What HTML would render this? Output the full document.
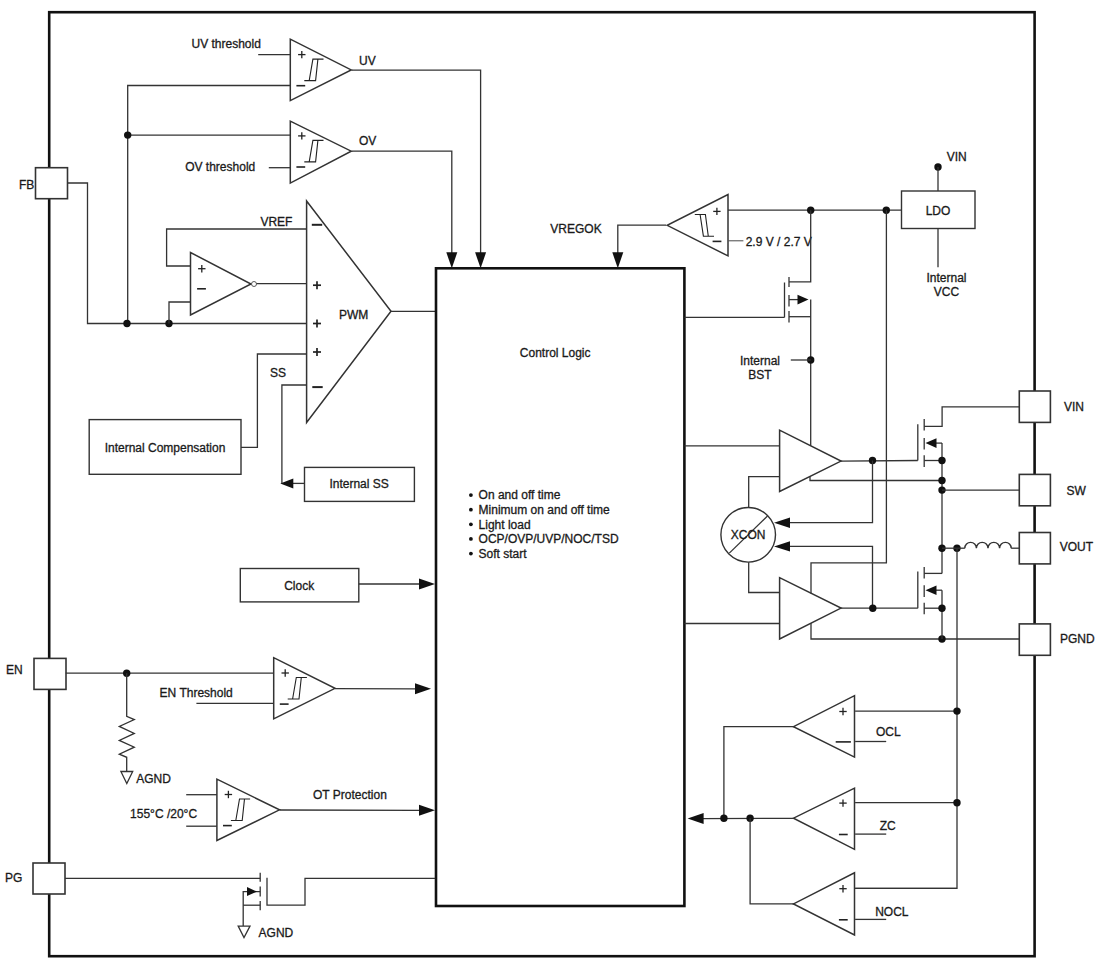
<!DOCTYPE html>
<html><head><meta charset="utf-8"><style>
html,body{margin:0;padding:0;background:#fff;}
svg{display:block;}
text{font-family:"Liberation Sans",sans-serif;font-size:12px;fill:#1a1a1a;stroke:#1a1a1a;stroke-width:0.3px;}
</style></head><body>
<svg width="1100" height="965" viewBox="0 0 1100 965">
<g fill="none" stroke="#333" stroke-width="1.3" stroke-linejoin="miter" stroke-linecap="butt">
<rect x="49.2" y="12.2" width="985.4" height="944" fill="none" stroke-width="2.6" stroke="#111"/>
<rect x="35.5" y="167.7" width="32" height="31" fill="#fff" stroke-width="1.6"/>
<rect x="34" y="658.4" width="32" height="31" fill="#fff" stroke-width="1.6"/>
<rect x="33" y="863" width="32" height="31" fill="#fff" stroke-width="1.6"/>
<rect x="1019.3" y="391" width="31.1" height="31.4" fill="#fff" stroke-width="1.6"/>
<rect x="1019.3" y="474.4" width="31.1" height="31.4" fill="#fff" stroke-width="1.6"/>
<rect x="1019.3" y="532.5" width="31.1" height="31.4" fill="#fff" stroke-width="1.6"/>
<rect x="1019.3" y="623.9" width="31.1" height="31.4" fill="#fff" stroke-width="1.6"/>
<text x="19" y="189">FB</text>
<text x="6" y="674.2">EN</text>
<text x="5" y="881.6">PG</text>
<text x="1064" y="410.8">VIN</text>
<text x="1066.4" y="495">SW</text>
<text x="1059.7" y="551">VOUT</text>
<text x="1060" y="643.3">PGND</text>
<polygon points="290.3,39.2 290.3,100.6 351.2,69.9" fill="none" stroke-width="1.5"/>
<path d="M298.1 54.6 L305.5 54.6" stroke-width="1.3" stroke="#222"/>
<path d="M301.8 50.9 L301.8 58.3" stroke-width="1.3" stroke="#222"/>
<path d="M296.4 85.7 L305.2 85.7" stroke-width="1.6" stroke="#222"/>
<path d="M304.3 80.6 L315.6 80.6 L317.9 59.1 L323.5 59.1 M309.2 80.6 L312.9 59.1 L317.9 59.1" stroke-width="1.1" stroke="#222"/>
<polygon points="290.3,121.2 290.3,183.1 351.2,151.2" fill="none" stroke-width="1.5"/>
<path d="M298.1 135.9 L305.5 135.9" stroke-width="1.3" stroke="#222"/>
<path d="M301.8 132.2 L301.8 139.6" stroke-width="1.3" stroke="#222"/>
<path d="M296.4 167 L305.2 167" stroke-width="1.6" stroke="#222"/>
<path d="M304.3 161.9 L315.6 161.9 L317.9 140.4 L323.5 140.4 M309.2 161.9 L312.9 140.4 L317.9 140.4" stroke-width="1.1" stroke="#222"/>
<path d="M258.2 54.7 L290.1 54.7"/>
<path d="M268.8 167.7 L290.1 167.7"/>
<text x="191.5" y="48.4">UV threshold</text>
<text x="185.2" y="170.8">OV threshold</text>
<text x="359" y="64.5">UV</text>
<text x="359" y="144.5">OV</text>
<path d="M351.5 70.1 L480.6 70.1 L480.6 256"/>
<path d="M351.5 151.2 L451.8 151.2 L451.8 256"/>
<polygon points="480.6,268.3 475.1,252.3 486.1,252.3" fill="#111" stroke="none"/>
<polygon points="451.8,268.3 446.3,252.3 457.3,252.3" fill="#111" stroke="none"/>
<path d="M67 183 L87.5 183 L87.5 323.5 L306.6 323.5"/>
<path d="M290.1 85.5 L127.7 85.5 L127.7 323.5"/>
<path d="M127.7 135.1 L290.1 135.1"/>
<circle cx="127.7" cy="135.1" r="3.7" fill="#111" stroke="none"/>
<circle cx="127" cy="323.5" r="3.7" fill="#111" stroke="none"/>
<circle cx="169" cy="323.5" r="3.7" fill="#111" stroke="none"/>
<polygon points="190.5,252.5 190.5,315 251,284" fill="none" stroke-width="1.5"/>
<path d="M198.1 268.7 L205.5 268.7" stroke-width="1.3" stroke="#222"/>
<path d="M201.8 265 L201.8 272.4" stroke-width="1.3" stroke="#222"/>
<path d="M197.1 288.8 L205.9 288.8" stroke-width="1.6" stroke="#222"/>
<path d="M190.5 266 L166.6 266 L166.6 229 L306.6 229"/>
<path d="M190.5 302 L169 302 L169 323.5"/>
<circle cx="254" cy="284" r="2.5" fill="#fff" stroke-width="0.8"/>
<path d="M256.5 283.7 L306.6 283.7"/>
<text x="260.4" y="226">VREF</text>
<polygon points="306.6,201 306.6,422.4 391,311.3" fill="none" stroke-width="1.5"/>
<path d="M311.8 224.8 L322.2 224.8" stroke-width="2" stroke="#222"/>
<path d="M313 285.2 L321 285.2" stroke-width="1.7" stroke="#222"/>
<path d="M317 281.2 L317 289.2" stroke-width="1.7" stroke="#222"/>
<path d="M313 323.5 L321 323.5" stroke-width="1.7" stroke="#222"/>
<path d="M317 319.5 L317 327.5" stroke-width="1.7" stroke="#222"/>
<path d="M313 352 L321 352" stroke-width="1.7" stroke="#222"/>
<path d="M317 348 L317 356" stroke-width="1.7" stroke="#222"/>
<path d="M312.3 387.1 L322.7 387.1" stroke-width="2" stroke="#222"/>
<text x="339" y="318.8">PWM</text>
<text x="270" y="377">SS</text>
<path d="M391 311.3 L436 311.3"/>
<path d="M306.6 385 L281.9 385 L281.9 483.4"/>
<path d="M241 447.4 L257.4 447.4 L257.4 354 L306.6 354"/>
<rect x="89.2" y="419.6" width="151.8" height="54.7" fill="none" stroke-width="1.4"/>
<text x="165" y="451.7" text-anchor="middle">Internal Compensation</text>
<rect x="304.5" y="467.4" width="109.9" height="34" fill="none" stroke-width="1.4"/>
<text x="359.1" y="487.7" text-anchor="middle">Internal SS</text>
<path d="M304.5 483.4 L290 483.4"/>
<polygon points="280.3,483.4 293.3,478.4 293.3,488.4" fill="#111" stroke="none"/>
<rect x="240.3" y="568.5" width="118.5" height="33.4" fill="none" stroke-width="1.4"/>
<text x="299.2" y="589.8" text-anchor="middle">Clock</text>
<path d="M358.8 584 L420 584"/>
<polygon points="435,584 419,578.5 419,589.5" fill="#111" stroke="none"/>
<rect x="436" y="268.3" width="248.4" height="637.7" fill="none" stroke-width="2.6" stroke="#111"/>
<text x="519.8" y="357.1">Control Logic</text>
<circle cx="470.9" cy="495.1" r="1.9" fill="#111" stroke="none"/>
<text x="478.6" y="499.4">On and off time</text>
<circle cx="470.9" cy="509.72" r="1.9" fill="#111" stroke="none"/>
<text x="478.6" y="514.02">Minimum on and off time</text>
<circle cx="470.9" cy="524.34" r="1.9" fill="#111" stroke="none"/>
<text x="478.6" y="528.64">Light load</text>
<circle cx="470.9" cy="538.96" r="1.9" fill="#111" stroke="none"/>
<text x="478.6" y="543.26">OCP/OVP/UVP/NOC/TSD</text>
<circle cx="470.9" cy="553.58" r="1.9" fill="#111" stroke="none"/>
<text x="478.6" y="557.88">Soft start</text>
<path d="M65.8 673.2 L273.7 673.2"/>
<circle cx="126.7" cy="673.2" r="3.7" fill="#111" stroke="none"/>
<path d="M126.7 673.2 L126.7 716.4 L134.3 719.6 L119.3 726.4 L134.3 733.4 L119.3 740.4 L134.3 747.2 L119.3 754.2 L126.7 757.3 L126.7 771.5"/>
<polygon points="120.9,771.5 132.7,771.5 126.8,783.6" fill="none" stroke-width="1.3"/>
<text x="136.2" y="782.6">AGND</text>
<polygon points="273.7,657.6 273.7,718.8 335,688.3" fill="none" stroke-width="1.5"/>
<path d="M281.5 673 L288.9 673" stroke-width="1.3" stroke="#222"/>
<path d="M285.2 669.3 L285.2 676.7" stroke-width="1.3" stroke="#222"/>
<path d="M279.8 704.1 L288.6 704.1" stroke-width="1.6" stroke="#222"/>
<path d="M287.7 699 L299 699 L301.3 677.5 L306.9 677.5 M292.6 699 L296.3 677.5 L301.3 677.5" stroke-width="1.1" stroke="#222"/>
<path d="M196.4 703.4 L273.3 703.4"/>
<text x="159.6" y="697">EN Threshold</text>
<path d="M335 688.6 L416 688.8"/>
<polygon points="431,688.8 415,683.3 415,694.3" fill="#111" stroke="none"/>
<polygon points="216.9,779.1 216.9,840.5 279.5,809.8" fill="none" stroke-width="1.5"/>
<path d="M224.7 794.5 L232.1 794.5" stroke-width="1.3" stroke="#222"/>
<path d="M228.4 790.8 L228.4 798.2" stroke-width="1.3" stroke="#222"/>
<path d="M223 825.6 L231.8 825.6" stroke-width="1.6" stroke="#222"/>
<path d="M230.9 820.5 L242.2 820.5 L244.5 799 L250.1 799 M235.8 820.5 L239.5 799 L244.5 799" stroke-width="1.1" stroke="#222"/>
<path d="M186.2 794.7 L216.9 794.7"/>
<path d="M186.2 826.2 L216.9 826.2"/>
<text x="130.1" y="818.2">155°C /20°C</text>
<path d="M279.5 810 L420 810.3"/>
<polygon points="435,810.3 419,804.8 419,815.8" fill="#111" stroke="none"/>
<text x="313" y="798.8">OT Protection</text>
<path d="M65 878.4 L260.2 878.4"/>
<path d="M260.2 872.7 L260.2 881.8"/>
<path d="M260.2 886.4 L260.2 896.6"/>
<path d="M260.2 901.1 L260.2 910.2"/>
<path d="M267 877.7 L267 905.2 L305 905.2 L305 878.4 L435.2 878.4"/>
<path d="M260.2 891.6 L243.2 891.6 L243.2 926.1"/>
<polygon points="257,891.6 247,887.1 247,896.1" fill="#111" stroke="none"/>
<path d="M243.2 905.2 L260.2 905.2"/>
<polygon points="238.2,926.1 250,926.1 244,937.5" fill="none" stroke-width="1.3"/>
<text x="258.6" y="937.3">AGND</text>
<polygon points="728,194.5 728,255.9 667.2,225.3" fill="none" stroke-width="1.5"/>
<path d="M713.2 211.4 L720.6 211.4" stroke-width="1.3" stroke="#222"/>
<path d="M716.9 207.7 L716.9 215.1" stroke-width="1.3" stroke="#222"/>
<path d="M712.6 241.4 L721.4 241.4" stroke-width="1.6" stroke="#222"/>
<path d="M694.8 214.5 L705.4 214.5 L708.3 236.2 L714 236.2 M700.1 214.5 L703.4 236.2 L708.3 236.2" stroke-width="1.1" stroke="#222"/>
<path d="M728 210.2 L901.5 210.2"/>
<circle cx="810.7" cy="210.2" r="3.7" fill="#111" stroke="none"/>
<circle cx="886.3" cy="210.2" r="3.7" fill="#111" stroke="none"/>
<path d="M728.6 240.8 L743.4 240.8" stroke-width="0.9"/>
<text x="745.7" y="246">2.9 V / 2.7 V</text>
<path d="M666 225.1 L617.8 225.1 L617.8 256"/>
<polygon points="617.8,268.3 612.3,252.3 623.3,252.3" fill="#111" stroke="none"/>
<text x="550.3" y="233">VREGOK</text>
<rect x="901.5" y="191" width="73.5" height="37.5" fill="none" stroke-width="1.4"/>
<text x="938" y="215" text-anchor="middle">LDO</text>
<circle cx="938" cy="167" r="3.7" fill="#111" stroke="none"/>
<path d="M938 167 L938 191"/>
<text x="946.7" y="160.5">VIN</text>
<path d="M938 228.5 L938 267.3"/>
<text x="946.5" y="282" text-anchor="middle">Internal</text>
<text x="946.5" y="296.4" text-anchor="middle">VCC</text>
<path d="M810.7 210.2 L810.7 281.9 L789 281.9"/>
<path d="M789 276.9 L789 287"/>
<path d="M789 295 L789 306.5"/>
<path d="M789 311 L789 322.4"/>
<path d="M784.5 282.5 L784.5 317.4"/>
<path d="M684.4 317.4 L784.5 317.4"/>
<path d="M789 299.6 L798 299.6"/>
<polygon points="808.5,299.6 797.5,294.8 797.5,304.4" fill="#111" stroke="none"/>
<path d="M789 316.7 L810.7 316.7"/>
<path d="M810.7 299.6 L810.7 445.8"/>
<circle cx="810.7" cy="360" r="3.7" fill="#111" stroke="none"/>
<path d="M790.8 360 L810.7 360"/>
<text x="760" y="364.6" text-anchor="middle">Internal</text>
<text x="760" y="379.4" text-anchor="middle">BST</text>
<polygon points="779.6,430.2 779.6,491.5 841,461.1" fill="none" stroke-width="1.5"/>
<path d="M684.4 445.8 L779.6 445.8"/>
<path d="M779.6 476.7 L748.7 476.7 L748.7 507.5"/>
<path d="M810 476.3 L810 480.5 L942 480.5"/>
<path d="M841 461.1 L917.8 460.5"/>
<circle cx="872.5" cy="460.5" r="3.7" fill="#111" stroke="none"/>
<path d="M872.5 460.5 L872.5 522.7 L790 522.7"/>
<polygon points="774,522.7 790,517.5 790,527.9" fill="#111" stroke="none"/>
<path d="M872.5 608.1 L872.5 546.4 L790 546.4"/>
<polygon points="774,546.4 790,541.2 790,551.6" fill="#111" stroke="none"/>
<circle cx="748.2" cy="534.8" r="27.3" fill="none" stroke-width="1.4"/>
<path d="M729.3 553.1 L767.5 516"/>
<text x="748.2" y="539.2" text-anchor="middle">XCON</text>
<path d="M748.7 562.2 L748.7 592.5 L779.6 592.5"/>
<polygon points="779.6,577.7 779.6,639 841,608.1" fill="none" stroke-width="1.5"/>
<path d="M684.4 623.5 L779.6 623.5"/>
<path d="M811 593.5 L811 562.9 L886.4 562.9 L886.4 210.2"/>
<path d="M811 623.2 L811 639 L1019.3 639"/>
<circle cx="942" cy="639" r="3.7" fill="#111" stroke="none"/>
<path d="M841 608.1 L917.8 608.2"/>
<circle cx="872.8" cy="608.2" r="3.7" fill="#111" stroke="none"/>
<path d="M917.8 424.2 L917.8 460.5"/>
<path d="M924.2 419 L924.2 430.6"/>
<path d="M924.2 437.9 L924.2 449.5"/>
<path d="M924.2 455.3 L924.2 466.9"/>
<path d="M924.2 426.3 L942.1 426.3 L942.1 406.8 L1019.3 406.8"/>
<path d="M942 443.1 L936 443.1"/>
<polygon points="925.5,443.1 936.5,438.3 936.5,447.9" fill="#111" stroke="none"/>
<path d="M942 443.1 L942 573.4"/>
<path d="M924.2 460.5 L942 460.5"/>
<circle cx="942" cy="460.5" r="3.7" fill="#111" stroke="none"/>
<circle cx="942" cy="480.5" r="3.7" fill="#111" stroke="none"/>
<circle cx="942" cy="490.1" r="3.7" fill="#111" stroke="none"/>
<path d="M942 490.1 L1019.3 490.1"/>
<circle cx="942" cy="548.2" r="3.7" fill="#111" stroke="none"/>
<circle cx="957" cy="548.2" r="3.7" fill="#111" stroke="none"/>
<path d="M942 548.2 L964.8 548.2"/>
<path d="M964.8 548.2 a5.8 5.8 0 0 1 11.6 0 a5.8 5.8 0 0 1 11.6 0 a5.8 5.8 0 0 1 11.6 0 a5.8 5.8 0 0 1 11.6 0" stroke-width="1.4"/>
<path d="M1011.2 548.2 L1019.3 548.2"/>
<path d="M917.8 571.4 L917.8 608.2"/>
<path d="M924.2 567 L924.2 578.6"/>
<path d="M924.2 585.3 L924.2 596.9"/>
<path d="M924.2 602.7 L924.2 614.3"/>
<path d="M924.2 573.4 L942 573.4"/>
<path d="M942 590.2 L936 590.2"/>
<polygon points="925.5,590.2 936.5,585.4 936.5,595" fill="#111" stroke="none"/>
<path d="M942 590.2 L942 639"/>
<path d="M924.2 608.2 L942 608.2"/>
<circle cx="942" cy="608.2" r="3.7" fill="#111" stroke="none"/>
<path d="M957 548.2 L957 888.3 L855.1 888.3"/>
<polygon points="854.5,695.6 854.5,757.1 793.5,726.7" fill="none" stroke-width="1.5"/>
<path d="M839.3 711.5 L846.7 711.5" stroke-width="1.3" stroke="#222"/>
<path d="M843 707.8 L843 715.2" stroke-width="1.3" stroke="#222"/>
<path d="M835.7 741.9 L850.9 741.9" stroke-width="1.6" stroke="#222"/>
<path d="M855.1 711.1 L957 711.1"/>
<path d="M855.1 741.5 L886.2 741.5"/>
<text x="875.9" y="736.4">OCL</text>
<polygon points="854.5,788.2 854.5,849.3 793.5,818.2" fill="none" stroke-width="1.5"/>
<path d="M839.3 803.1 L846.7 803.1" stroke-width="1.3" stroke="#222"/>
<path d="M843 799.4 L843 806.8" stroke-width="1.3" stroke="#222"/>
<path d="M838.9 834.5 L847.7 834.5" stroke-width="1.6" stroke="#222"/>
<path d="M855.1 802.7 L957 802.7"/>
<path d="M855.1 834.1 L886.2 834.1"/>
<text x="879.7" y="830.3">ZC</text>
<polygon points="854.5,872.8 854.5,935 793.5,903.9" fill="none" stroke-width="1.5"/>
<path d="M839.3 888.7 L846.7 888.7" stroke-width="1.3" stroke="#222"/>
<path d="M843 885 L843 892.4" stroke-width="1.3" stroke="#222"/>
<path d="M838.9 919.8 L847.7 919.8" stroke-width="1.6" stroke="#222"/>
<path d="M855.1 888.3 L957 888.3"/>
<path d="M855.1 919.4 L886.2 919.4"/>
<text x="875.2" y="916">NOCL</text>
<circle cx="957" cy="711.1" r="3.7" fill="#111" stroke="none"/>
<circle cx="957" cy="802.7" r="3.7" fill="#111" stroke="none"/>
<path d="M794 726.7 L723.9 726.7 L723.9 818.2"/>
<path d="M793.5 818.4 L702 818.6"/>
<polygon points="687.6,818.6 703.6,813.1 703.6,824.1" fill="#111" stroke="none"/>
<circle cx="723.9" cy="818.2" r="3.7" fill="#111" stroke="none"/>
<circle cx="750.1" cy="818.2" r="3.7" fill="#111" stroke="none"/>
<path d="M794 903.9 L750.1 903.9 L750.1 818.2"/>
</g>
</svg>
</body></html>
